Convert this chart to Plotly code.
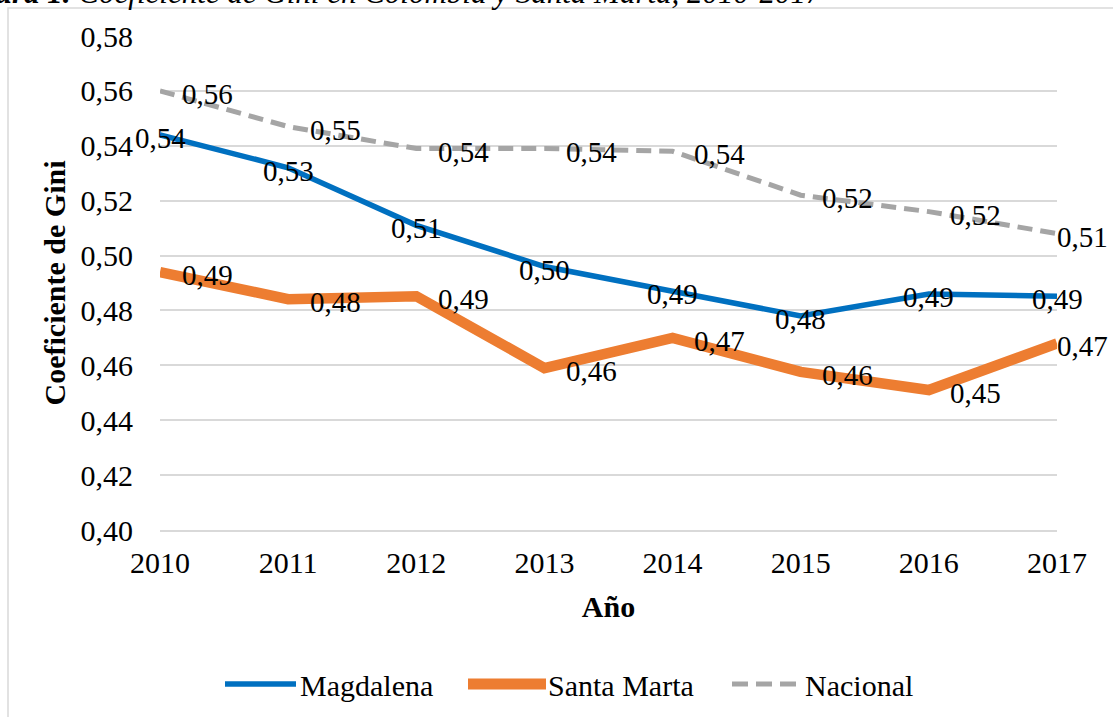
import plotly.graph_objects as go

# ---------------- data ----------------
years = [2010, 2011, 2012, 2013, 2014, 2015, 2016, 2017]
magdalena = [0.544, 0.532, 0.511, 0.496, 0.487, 0.478, 0.486, 0.4852]
santa_marta = [0.494, 0.4841, 0.4852, 0.459, 0.470, 0.4576, 0.451, 0.468]
nacional = [0.560, 0.547, 0.539, 0.539, 0.538, 0.522, 0.516, 0.508]

series_names = ["Magdalena", "Santa Marta", "Nacional"]
y_tick_values = [0.40, 0.42, 0.44, 0.46, 0.48, 0.50, 0.52, 0.54, 0.56, 0.58]
y_tick_labels = ["0,40", "0,42", "0,44", "0,46", "0,48", "0,50", "0,52", "0,54", "0,56", "0,58"]
x_tick_labels = ["2010", "2011", "2012", "2013", "2014", "2015", "2016", "2017"]
x_title = "Año"
y_title = "Coeficiente de Gini"
caption_bold = "Figura 1."
caption_rest = "Coeficiente de Gini en Colombia y Santa Marta, 2010-2017"

# ---------------- style ----------------
FONT = "Liberation Serif, Times New Roman, serif"
FS = 30
W, H = 1113, 717
L, R, T, B = 160, 56, 36, 187
PW = W - L - R
PH = H - T - B

BLUE = "#0070C0"
ORANGE = "#ED7D31"
GRAY = "#A5A5A5"
GRID = "#D9D9D9"


def px2x(px):
    return (px - L) / PW


def px2y(py):
    return (H - B - py) / PH


def fmt(v):
    return f"{v:.2f}".replace(".", ",")


fig = go.Figure()

line_styles = [
    dict(color=BLUE, width=5.5),
    dict(color=ORANGE, width=10.5),
    dict(color=GRAY, width=5, dash="15px,8px"),
]
all_series = [magdalena, santa_marta, nacional]

for name, vals, ls in zip(series_names, all_series, line_styles):
    fig.add_trace(go.Scatter(x=years, y=vals, mode="lines", name=name,
                             line=ls, showlegend=False, hoverinfo="x+y"))

annotations = []
# data labels
for si, vals in enumerate(all_series):
    for i, (yr, v) in enumerate(zip(years, vals)):
        if si == 0:
            xs = 0
        else:
            xs = 25 if i == len(years) - 1 else 47
        annotations.append(dict(x=yr, y=v, xref="x", yref="y", text=fmt(v),
                                showarrow=False, xanchor="center", yanchor="middle",
                                xshift=xs, yshift=-3,
                                font=dict(family=FONT, size=29, color="black")))

# caption (cut at top, as in the source)
annotations.append(dict(x=px2x(825), y=px2y(11.5), xref="paper", yref="paper",
                        xanchor="right", yanchor="bottom", showarrow=False,
                        text=f"<i><b>{caption_bold}</b> {caption_rest}</i>",
                        font=dict(family=FONT, size=31, color="black")))

# custom legend
legend_items = [
    (series_names[0], 225, 296, 298, dict(color=BLUE, width=5.5)),
    (series_names[1], 468, 546, 546, dict(color=ORANGE, width=11)),
    (series_names[2], 732, 796, 803, dict(color=GRAY, width=5, dash="16px,8px")),
]
shapes = []
LEG_Y = 684
for name, x0, x1, tx, ls in legend_items:
    shapes.append(dict(type="line", xref="paper", yref="paper",
                       x0=px2x(x0), x1=px2x(x1), y0=px2y(LEG_Y), y1=px2y(LEG_Y),
                       line=ls))
    annotations.append(dict(x=px2x(tx), y=px2y(LEG_Y + 1), xref="paper", yref="paper",
                            xanchor="left", yanchor="middle", showarrow=False, text=name,
                            font=dict(family=FONT, size=FS, color="black")))

# chart frame
shapes.append(dict(type="rect", xref="paper", yref="paper",
                   x0=px2x(8), x1=px2x(1300), y0=px2y(900), y1=px2y(8),
                   line=dict(color=GRID, width=1.5), layer="below"))

fig.update_layout(
    width=W, height=H,
    margin=dict(l=L, r=R, t=T, b=B, pad=0),
    paper_bgcolor="white", plot_bgcolor="white",
    font=dict(family=FONT, size=FS, color="black"),
    showlegend=False,
    annotations=annotations,
    shapes=shapes,
    xaxis=dict(range=[years[0], years[-1]], tickvals=years, ticktext=x_tick_labels,
               showgrid=False, zeroline=False, showline=True, linecolor=GRID, linewidth=1.5,
               ticks="", ticklabelstandoff=5,
               tickfont=dict(family=FONT, size=FS, color="black"),
               title=dict(text=f"<b>{x_title}</b>", standoff=18,
                          font=dict(family=FONT, size=FS, color="black"))),
    yaxis=dict(range=[0.40, 0.58], tickvals=y_tick_values, ticktext=y_tick_labels,
               showgrid=True, gridcolor=GRID, gridwidth=1.5, zeroline=False,
               showline=False, ticks="", ticklabelstandoff=26,
               tickfont=dict(family=FONT, size=FS, color="black"),
               title=dict(text=f"<b>{y_title}</b>", standoff=6,
                          font=dict(family=FONT, size=FS, color="black"))),
)

fig.write_html("out.html", config={"displayModeBar": False},
               post_script="document.body.style.margin='0';document.body.style.padding='0';")
